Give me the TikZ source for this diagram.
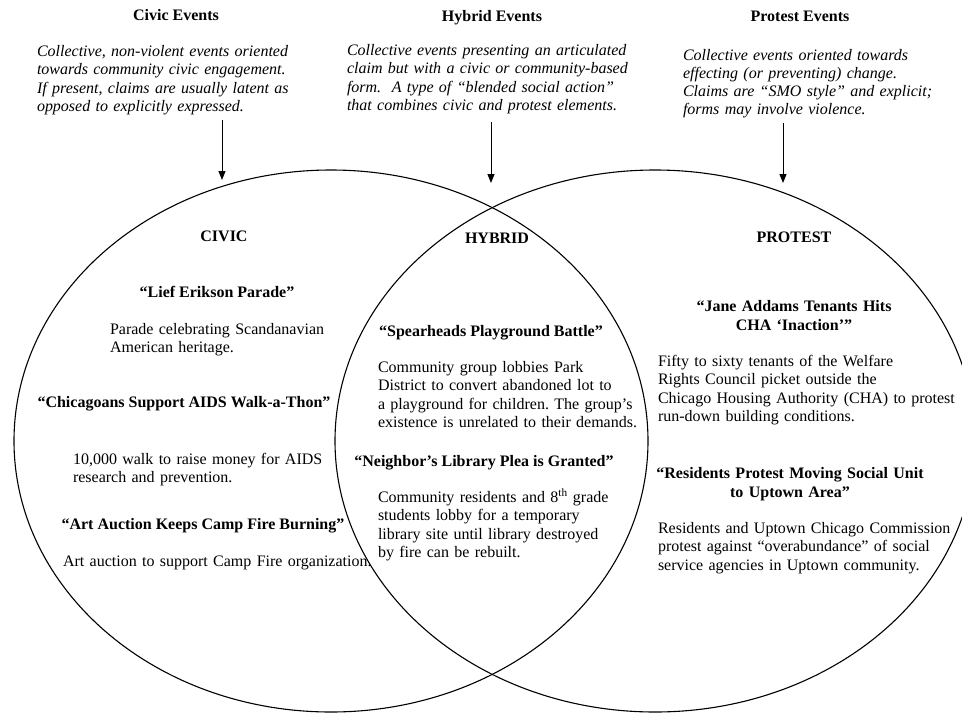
\documentclass[tikz,border=0pt]{standalone}
\usepackage{fontspec}
\setmainfont{Liberation Serif}
\usetikzlibrary{arrows.meta,shapes.geometric}
\frenchspacing
\begin{document}
\begin{tikzpicture}[x=1pt,y=-1pt,
  every node/.style={inner sep=0pt, outer sep=0pt, font=\fontsize{16}{18.3}\selectfont},
  ttl/.style={anchor=base, font=\fontsize{16}{18.3}\selectfont\bfseries},
  desc/.style={anchor=base west, text width=330pt, align=left, font=\fontsize{16}{18.3}\selectfont\itshape},
  body/.style={anchor=base west, text width=330pt, align=left},
  head/.style={anchor=base, text width=330pt, align=center, font=\fontsize{16}{18.5}\selectfont\bfseries},
  setshape/.style={draw, ellipse, line width=1.1pt, minimum width=634pt, minimum height=542pt},
  pointer/.style={-{Triangle[length=9pt,width=7pt]}, line width=1pt}
]
\useasboundingbox (0,0) rectangle (962,713);

% sets
\node[setshape] (civicset) at (331,441) {};
\node[setshape, minimum width=640pt] (protestset) at (655,441) {};

% top titles
\node[ttl] (t1) at (176,20) {Civic Events};
\node[ttl] (t2) at (492,21) {Hybrid Events};
\node[ttl] (t3) at (800,21) {Protest Events};

% descriptions
\node[desc] (d1) at (37,56.5) {Collective, non-violent events oriented\\towards community civic engagement.\\If present, claims are usually latent as\\opposed to explicitly expressed.};
\node[desc] (d2) at (347,55.5) {Collective events presenting an articulated\\claim but with a civic or community-based\\form.\ \ A type of “blended social action”\\that combines civic and protest elements.};
\node[desc] (d3) at (683,60) {Collective events oriented towards\\effecting (or preventing) change.\\Claims are “SMO style” and explicit;\\forms may involve violence.};

% arrows
\coordinate (a1s) at (222,120); \coordinate (a1e) at (222,180);
\coordinate (a2s) at (491,122); \coordinate (a2e) at (491,183);
\coordinate (a3s) at (783,123); \coordinate (a3e) at (783,183);
\draw[pointer] (a1s) -- (a1e);
\draw[pointer] (a2s) -- (a2e);
\draw[pointer] (a3s) -- (a3e);

% section labels
\node[ttl] (lc) at (224,241) {CIVIC};
\node[ttl] (lh) at (497,243) {HYBRID};
\node[ttl] (lp) at (794,242) {PROTEST};

% civic items
\node[ttl] (c1) at (217,297.5) {“Lief Erikson Parade”};
\node[body] (c1b) at (110,334.5) {Parade celebrating Scandanavian\\American heritage.};
\node[ttl] (c2) at (184,407.5) {“Chicagoans Support AIDS Walk-a-Thon”};
\node[body] (c2b) at (73,464.5) {10,000 walk to raise money for AIDS\\research and prevention.};
\node[ttl] (c3) at (203,529.5) {“Art Auction Keeps Camp Fire Burning”};
\node[body] (c3b) at (63,566.5) {Art auction to support Camp Fire organization.};

% hybrid items
\node[ttl] (h1) at (491,336.5) {“Spearheads Playground Battle”};
\node[body] (h1b) at (378,372.5) {Community group lobbies Park\\District to convert abandoned lot to\\a playground for children. The group’s\\existence is unrelated to their demands.};
\node[ttl] (h2) at (484,466.5) {“Neighbor’s Library Plea is Granted”};
\node[body] (h2b) at (378,502.5) {Community residents and 8\textsuperscript{th} grade\\students lobby for a temporary\\library site until library destroyed\\by fire can be rebuilt.};

% protest items
\node[head] (p1) at (794,311.5) {“Jane Addams Tenants Hits\\CHA ‘Inaction’”};
\node[body] (p1b) at (658,366.5) {Fifty to sixty tenants of the Welfare\\Rights Council picket outside the\\Chicago Housing Authority (CHA) to protest\\run-down building conditions.};
\node[head] (p2) at (790,478.5) {“Residents Protest Moving Social Unit\\to Uptown Area”};
\node[body] (p2b) at (658,533.5) {Residents and Uptown Chicago Commission\\protest against “overabundance” of social\\service agencies in Uptown community.};
\end{tikzpicture}
\end{document}
